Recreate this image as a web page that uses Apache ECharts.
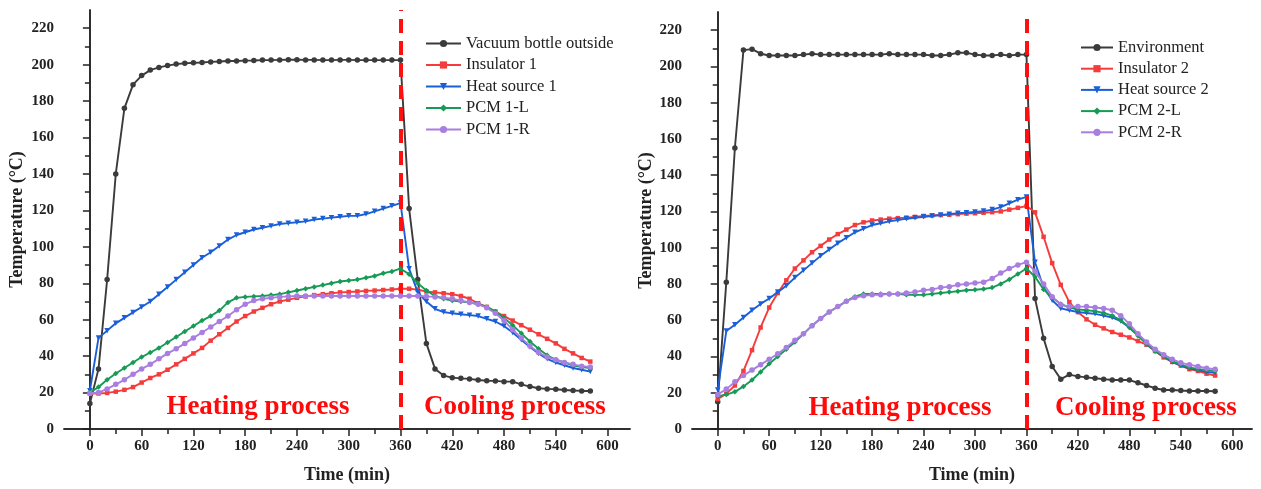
<!DOCTYPE html>
<html>
<head>
<meta charset="utf-8">
<script src="https://cdn.jsdelivr.net/npm/echarts@6/dist/echarts.min.js"></script>
<style>
  html, body { margin: 0; padding: 0; background: #fff; }
  #chart { width: 1261px; height: 489px; }
</style>
</head>
<body>
<div id="chart"></div>
<script>
// time (min), one reading every 10 min
const times = [0,10,20,30,40,50,60,70,80,90,100,110,120,130,140,150,160,170,180,190,200,
  210,220,230,240,250,260,270,280,290,300,310,320,330,340,350,360,370,380,390,400,
  410,420,430,440,450,460,470,480,490,500,510,520,530,540,550,560,570,580];

// tick labels
const xMajor = [0,60,120,180,240,300,360,420,480,540,600];
const xMinor = [30,90,150,210,270,330,390,450,510,570];
const yMajor = [0,20,40,60,80,100,120,140,160,180,200,220];
const yMinor = [10,30,50,70,90,110,130,150,170,190,210];

const namesLeft = ['Vacuum bottle outside','Insulator 1','Heat source 1','PCM 1-L','PCM 1-R'];
const namesRight = ['Environment','Insulator 2','Heat source 2','PCM 2-L','PCM 2-R'];

// left panel
const vacuumOutside = [14,33,82,140,176,189,194,197,198.5,199.5,200.3,200.8,201,201.2,201.5,201.7,202,202,202.2,202.3,
  202.5,202.5,202.6,202.7,202.7,202.6,202.6,202.5,202.5,202.6,202.6,202.5,202.5,202.5,202.5,202.5,202.5,
  121,82,47,33,29.3,28.2,27.8,27.5,26.9,26.5,26.4,26,26,24.5,23.3,22.4,22,21.8,21.4,21.1,20.9,20.9];
const insulator1 = [19.5,19.5,19.8,20.5,21.5,23,25.5,28,30,32.5,35.5,38.5,41.5,44.5,48.5,52,55.5,59,62,64.5,
  66.5,68.5,70,71,72,72.8,73.5,74,74.5,75,75.2,75.5,75.8,76,76.3,76.6,77,
  77,76.5,75.5,75,74.5,74,73,71.5,69,67,64.5,62,59.5,57,54.5,52,49.5,47,44,41.5,39,37];
const heatSource1 = [21,50,54,58,61,64,67,70,74,78,82,86,90,94,97,100.5,104,106.5,108,109.5,
  110.5,111.5,112.5,113,113.5,114,115,115.5,116,116.5,117,117,118,119.5,121,122.5,124,
  88,75,70,66,64.2,63.5,63,62.5,62,60.5,59,56.5,53,49,45,41.5,38.5,36.5,35,33.5,32.5,31.5];
const pcm1L = [20,23,27,30.5,33.5,36.5,39.5,42,44.5,47.5,50.5,53.5,56.5,59.5,62,65,69.5,72,72.5,72.8,
  73,73.5,74,75,76,77,78,79,80,81,81.5,82,83,84,85.5,86.5,88,
  85,80,76,73,71.5,70.5,70,69.5,68.5,67,64.5,61,57,52.5,48,44,40.5,38,36.5,35,34,33.5];
const pcm1R = [19.5,20,22,24.5,27,30,33,35.5,38.5,41.5,44,47,50,53,56,59,62,65.5,68.5,70.5,
  71.5,72,72.5,72.8,73,73,73,73,73,73,73,73,73,73,73,73,73,
  73,73,72.8,72.5,72,71.5,70.5,69.5,68.5,66.5,63.5,59.5,54.5,50,45.5,42,39.5,38,36.5,35.5,34.5,34];

// right panel
const environment = [15,81,155,209,209.5,207,206,206,206,206,206.5,207,206.5,206.5,206.5,206.5,206.5,206.5,206.5,206.5,
  207,206.5,206.5,206.5,206.5,206,206,206.5,207.5,207.5,206.5,206,206,206.5,206,206.5,206.5,
  72,50,34.5,27.5,30,29,28.5,28,27.5,27,27,27,25.5,24,22.5,21.5,21.5,21.2,21,21,21,20.8];
const insulator2 = [16.5,19.5,24,32,43.5,56,67,75,82,88.5,93,97.5,101,104.5,107.5,110,112.5,114,115,115.5,
  116,116.3,116.6,117,117.5,117.8,118,118.2,118.5,118.8,119,119.3,119.6,120,121,122,123,
  119.5,106,91.5,79.5,70,64.5,60.5,57.5,55.5,53.5,52,50.5,48.5,46.5,43,39.5,37,35,33,32,30.5,29.5];
const heatSource2 = [21.5,54,57.5,61.5,65.5,69,72,75.5,79,83.5,87.5,91.5,95.5,99,102.5,105.5,108.5,110.5,112.5,113.5,
  114.5,115.2,116,116.5,117,117.5,118,118.5,119,119.3,119.7,120.2,121,122.4,124.5,126.5,128,
  92,78,71,66.5,65.5,64.5,64,63.5,62.5,61.5,59.5,56,51.5,47,43,40,37,35,33.5,32.5,31.5,31];
const pcm2L = [18,19,20.5,23.5,27,31.5,36,40,44,48,52.5,57,61,64.5,67.5,70.5,73,74.5,74.5,74.5,
  74.5,74.5,74,74,74,74.5,75,75.5,76,76.5,76.8,77.2,78,80,82.5,85.5,88.5,
  84,77,72.5,69,67,66,65.5,65,64,62.5,60,56,51.5,47,43,40,37.5,35.5,34,33,32.5,32];
const pcm2R = [19,22,26,29.5,32.5,35.5,38.5,41.5,45,49,52.5,57,61,64.5,67.5,70.5,72.5,73.5,74,74,
  74.5,74.5,75,75.5,76.5,77,78,78.5,79.5,80,80.5,81,83,86,88.5,90.5,92,
  87,80,73,68.5,67.5,67.5,67.5,67,66.5,65.5,62.5,58,52.5,48,44,41,38.5,36.5,35.5,34.5,33.5,33];

const FONT = '"Liberation Serif", "DejaVu Serif", serif';
const colors = ['#3b3b3b', '#f53c3c', '#1a5fd8', '#179a55', '#a87ee0'];
const symbols = ['circle', 'rect', 'triangle', 'diamond', 'circle'];
const rotates = [0, 0, 180, 0, 0];

function pairs(vals) {
  return times.map((t, i) => [t, vals[i]]);
}

function xAxes(grid, max) {
  const base = { gridIndex: grid, type: 'value', min: -30, max: max, splitLine: { show: false } };
  const line = { lineStyle: { color: '#222', width: 1.5 } };
  return [
    Object.assign({}, base, {
      position: 'bottom',
      name: 'Time (min)', nameLocation: 'middle', nameGap: 37,
      nameTextStyle: { fontFamily: FONT, fontWeight: 'bold', fontSize: 18, color: '#222' },
      axisLine: line,
      axisTick: { customValues: xMajor, length: 7, lineStyle: { color: '#222', width: 1.5 } },
      axisLabel: { customValues: xMajor, margin: 10, fontFamily: FONT, fontWeight: 'bold', fontSize: 15, color: '#222' }
    }),
    Object.assign({}, base, {
      position: 'bottom',
      axisLine: { show: false },
      axisTick: { customValues: xMinor, length: 4, lineStyle: { color: '#222', width: 1.5 } },
      axisLabel: { show: false }
    }),
    Object.assign({}, base, {
      position: 'top',
      axisLine: line,
      axisTick: { customValues: xMajor.concat(xMinor), inside: true, length: 5, lineStyle: { color: '#222', width: 1.5 } },
      axisLabel: { show: false }
    })
  ];
}

function yAxes(grid, gap) {
  const base = { gridIndex: grid, type: 'value', min: 0, max: 230, splitLine: { show: false } };
  const line = { lineStyle: { color: '#222', width: 1.5 } };
  return [
    Object.assign({}, base, {
      position: 'left',
      name: 'Temperature (°C)', nameLocation: 'middle', nameGap: gap,
      nameTextStyle: { fontFamily: FONT, fontWeight: 'bold', fontSize: 18, color: '#222' },
      axisLine: line,
      axisTick: { customValues: yMajor, length: 7, lineStyle: { color: '#222', width: 1.5 } },
      axisLabel: { customValues: yMajor, margin: 10, fontFamily: FONT, fontWeight: 'bold', fontSize: 15, color: '#222' }
    }),
    Object.assign({}, base, {
      position: 'left',
      axisLine: { show: false },
      axisTick: { customValues: yMinor, length: 4, lineStyle: { color: '#222', width: 1.5 } },
      axisLabel: { show: false }
    }),
    Object.assign({}, base, {
      position: 'right',
      axisLine: line,
      axisTick: { customValues: yMajor.concat(yMinor), inside: true, length: 5, lineStyle: { color: '#222', width: 1.5 } },
      axisLabel: { show: false }
    })
  ];
}

function makeSeries(names, datasets, axisIdx) {
  return names.map((name, k) => {
    const s = {
      name: name,
      type: 'line',
      xAxisIndex: axisIdx,
      yAxisIndex: axisIdx,
      data: pairs(datasets[k]),
      symbol: symbols[k],
      symbolRotate: rotates[k],
      symbolSize: k === 1 ? 4.5 : 5.5,
      showAllSymbol: true,
      lineStyle: { color: colors[k], width: 1.9 },
      itemStyle: { color: colors[k] },
      z: 2 + k
    };
    if (k === names.length - 1) {
      s.markLine = {
        silent: true,
        symbol: ['none', 'none'],
        label: { show: false },
        lineStyle: { color: '#ff1010', width: 4, type: [14, 8] },
        data: [{ xAxis: 360 }]
      };
    }
    return s;
  });
}

const legendText = { fontFamily: FONT, fontSize: 16.5, color: '#222' };

const option = {
  animation: false,
  backgroundColor: '#fff',
  grid: [
    { left: 64, top: 10, width: 566, height: 421 },
    { left: 692, top: 12, width: 560, height: 420 }
  ],
  xAxis: xAxes(0, 626).concat(xAxes(1, 623)),
  yAxis: yAxes(0, 38).concat(yAxes(1, 33)),
  legend: [
    { data: namesLeft, orient: 'vertical', left: 425, top: 35, padding: 0, itemWidth: 35, itemHeight: 9, itemGap: 4.5, textStyle: legendText },
    { data: namesRight, orient: 'vertical', left: 1080, top: 39, padding: 0, itemWidth: 32, itemHeight: 9, itemGap: 4.2, textStyle: legendText }
  ],
  series: makeSeries(namesLeft, [vacuumOutside, insulator1, heatSource1, pcm1L, pcm1R], 0)
    .concat(makeSeries(namesRight, [environment, insulator2, heatSource2, pcm2L, pcm2R], 3)),
  graphic: [
    ['Heating process', 258, 407],
    ['Cooling process', 515, 407],
    ['Heating process', 900, 408],
    ['Cooling process', 1146, 408]
  ].map(([text, x, y]) => ({
    type: 'text',
    z: 100,
    style: {
      text: text, x: x, y: y,
      align: 'center', verticalAlign: 'middle',
      fill: '#ff0a0a',
      fontFamily: FONT, fontWeight: 'bold', fontSize: 27
    }
  }))
};

const chart = echarts.init(document.getElementById('chart'));
chart.setOption(option);
</script>
</body>
</html>
